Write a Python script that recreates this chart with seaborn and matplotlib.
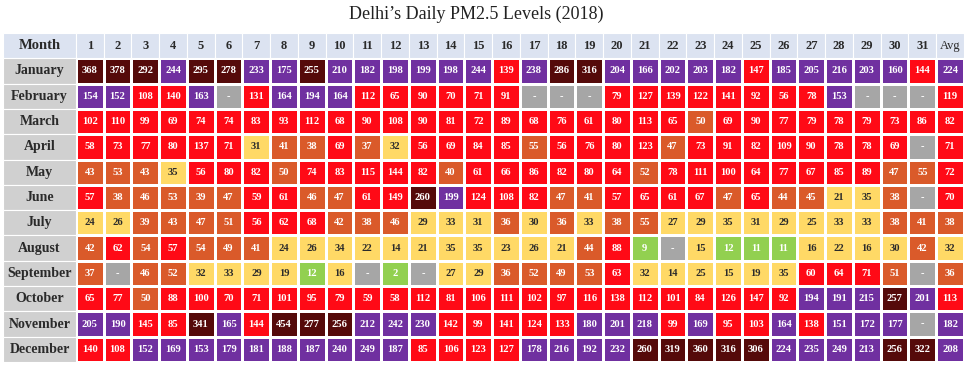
import numpy as np
import pandas as pd
import seaborn as sns
import matplotlib
matplotlib.use("Agg")
import matplotlib.pyplot as plt
from matplotlib.colors import ListedColormap, BoundaryNorm
from matplotlib.patches import Rectangle

N = None
months = ["January", "February", "March", "April", "May", "June", "July",
          "August", "September", "October", "November", "December"]
day_labels = [str(d) for d in range(1, 32)] + ["Avg"]

jan = [368, 378, 292, 244, 295, 278, 233, 175, 255, 210, 182, 198, 199, 198, 244, 139,
       238, 286, 316, 204, 166, 202, 203, 182, 147, 185, 205, 216, 203, 160, 144]
feb = [154, 152, 108, 140, 163, N, 131, 164, 194, 164, 112, 65, 90, 70, 71, 91,
       N, N, N, 79, 127, 139, 122, 141, 92, 56, 78, 153, N, N, N]
mar = [102, 110, 99, 69, 74, 74, 83, 93, 112, 68, 90, 108, 90, 81, 72, 89,
       68, 76, 61, 80, 113, 65, 50, 69, 90, 77, 79, 78, 79, 73, 86]
apr = [58, 73, 77, 80, 137, 71, 31, 41, 38, 69, 37, 32, 56, 69, 84, 85,
       55, 56, 76, 80, 123, 47, 73, 91, 82, 109, 90, 78, 78, 69, N]
may = [43, 53, 43, 35, 56, 80, 82, 50, 74, 83, 115, 144, 82, 40, 61, 66,
       86, 82, 80, 64, 52, 78, 111, 100, 64, 77, 67, 85, 89, 47, 55]
jun = [57, 38, 46, 53, 39, 47, 59, 61, 46, 47, 61, 149, 260, 199, 124, 108,
       82, 47, 41, 57, 65, 61, 67, 47, 65, 44, 45, 21, 35, 38, N]
jul = [24, 26, 39, 43, 47, 51, 56, 62, 68, 42, 38, 46, 29, 33, 31, 36,
       30, 36, 33, 38, 55, 27, 29, 35, 31, 29, 25, 33, 33, 38, 41]
aug = [42, 62, 54, 57, 54, 49, 41, 24, 26, 34, 22, 14, 21, 35, 35, 23,
       26, 21, 44, 88, 9, N, 15, 12, 11, 11, 16, 22, 16, 30, 42]
sep = [37, N, 46, 52, 32, 33, 29, 19, 12, 16, N, 2, N, 27, 29, 36,
       52, 49, 53, 63, 32, 14, 25, 15, 19, 35, 60, 64, 71, 51, N]
oct_ = [65, 77, 50, 88, 100, 70, 71, 101, 95, 79, 59, 58, 112, 81, 106, 111,
        102, 97, 116, 138, 112, 101, 84, 126, 147, 92, 194, 191, 215, 257, 201]
nov = [205, 190, 145, 85, 341, 165, 144, 454, 277, 256, 212, 242, 230, 142, 99, 141,
       124, 133, 180, 201, 218, 99, 169, 95, 103, 164, 138, 151, 172, 177, N]
dec = [140, 108, 152, 169, 153, 179, 181, 188, 187, 240, 249, 187, 85, 106, 123, 127,
       178, 216, 192, 232, 260, 319, 360, 316, 306, 224, 235, 249, 213, 256, 322]
avg = [224, 119, 82, 71, 72, 70, 38, 32, 36, 113, 182, 208]

rows = [jan, feb, mar, apr, may, jun, jul, aug, sep, oct_, nov, dec]
data = pd.DataFrame([r + [a] for r, a in zip(rows, avg)],
                    index=months, columns=day_labels, dtype=float)

# category colours (US EPA PM2.5 breakpoints); missing -> grey
colors = ["#a6a6a6", "#92d050", "#ffd966", "#da5a2a", "#ff0a16", "#7030a0", "#550a0a"]
bounds = [-2, 0, 12.05, 35.45, 55.45, 150.45, 250.45, 2000]
cmap = ListedColormap(colors)
norm = BoundaryNorm(bounds, cmap.N)

vals = data.fillna(-1)
labels = data.map(lambda v: "-" if pd.isna(v) else str(int(v)))

serif = ["Liberation Serif", "DejaVu Serif"]
plt.rcParams["font.family"] = serif

fig = plt.figure(figsize=(9.66, 3.65), dpi=100)
fig.patch.set_facecolor("white")
W, H = 966, 365
ax = fig.add_axes([3 / W, 1 - 362 / H, 961 / W, 329 / H])

sns.heatmap(vals, cmap=cmap, norm=norm, annot=labels.values, fmt="",
            cbar=False, linewidths=0.8, linecolor="white", ax=ax,
            annot_kws=dict(fontsize=7.6, fontweight="bold", family=serif))

for t in ax.texts:
    x, y = t.get_position()
    v = vals.iat[int(y), int(x)]
    if 12.05 < v <= 35.45:
        t.set_color("#2b2b2b")
    else:
        t.set_color("white")

mw = 2.63
ax.set_xlim(-mw, len(day_labels))
ax.set_ylim(len(months), -1)
ax.set_xticks([])
ax.set_yticks([])
ax.set_xlabel("")
ax.set_ylabel("")
for s in ax.spines.values():
    s.set_visible(False)

header_bg = "#dce3f1"
label_bg = "#d0d0d0"
ax.add_patch(Rectangle((-mw, -1), mw, 1, fc=header_bg, ec="white", lw=0.8))
ax.text(-mw / 2, -0.5, "Month", ha="center", va="center", fontsize=10.5,
        fontweight="bold", color="#2a2a2a")
for j, d in enumerate(day_labels):
    ax.add_patch(Rectangle((j, -1), 1, 1, fc=header_bg, ec="white", lw=0.8))
    ax.text(j + 0.5, -0.5, d, ha="center", va="center", fontsize=9,
            fontweight="bold" if d != "Avg" else "normal", color="#2a2a2a")
for i, m in enumerate(months):
    ax.add_patch(Rectangle((-mw, i), mw, 1, fc=label_bg, ec="white", lw=0.8))
    ax.text(-mw / 2, i + 0.5, m, ha="center", va="center", fontsize=10,
            fontweight="bold", color="#2a2a2a")

fig.text(476 / W, 1 - 14 / H, "Delhi\u2019s Daily PM2.5 Levels (2018)",
         ha="center", va="center", fontsize=13, color="#222222")

fig.savefig("out.png", dpi=100, facecolor="white")
